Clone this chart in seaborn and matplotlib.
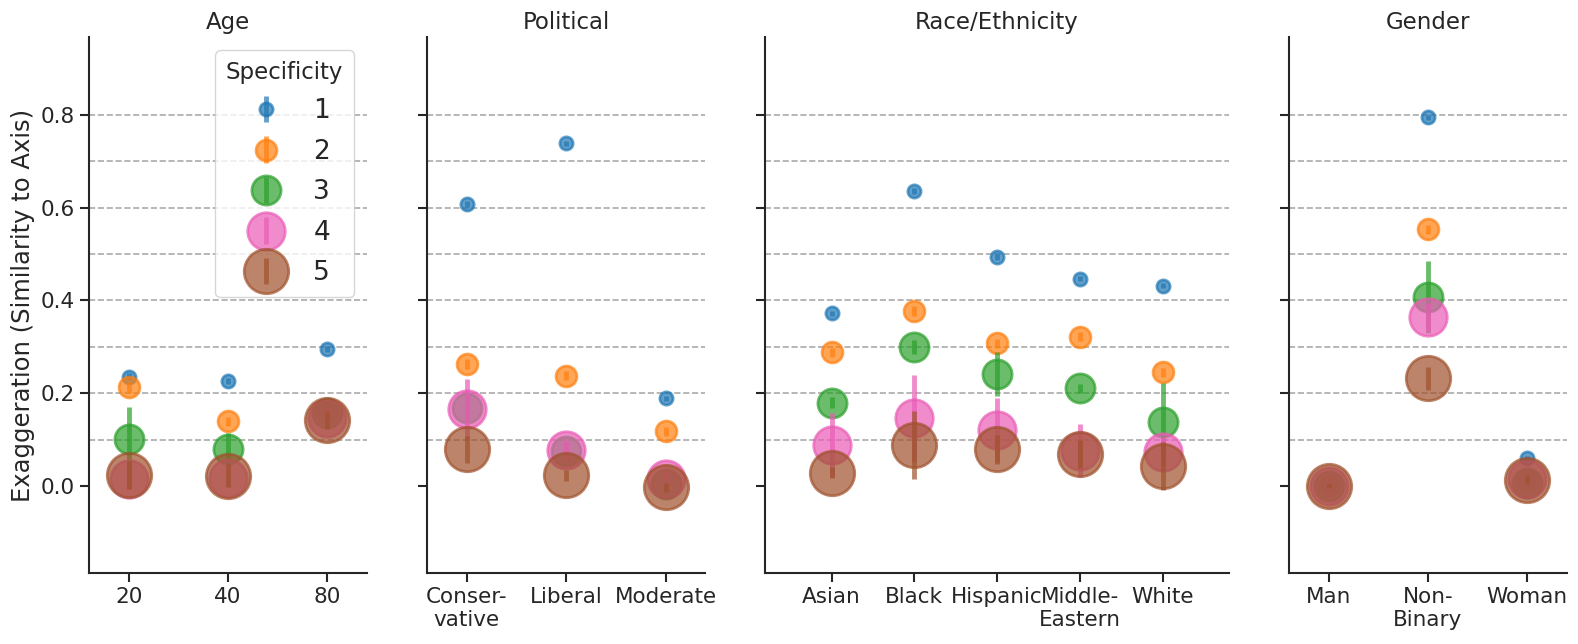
import numpy as np
import matplotlib
matplotlib.use("Agg")
import matplotlib.pyplot as plt
import seaborn as sns

# specificity levels (hue + size)
specificity = [1, 2, 3, 4, 5]

# Age
age_cats = ["20", "40", "80"]
age_vals = [
    [0.236, 0.226, 0.295],
    [0.213, 0.140, 0.160],
    [0.102, 0.080, 0.158],
    [0.015, 0.018, 0.148],
    [0.024, 0.023, 0.143],
]
age_err = [
    [0.008, 0.006, 0.006],
    [0.012, 0.010, 0.010],
    [0.068, 0.035, 0.020],
    [0.020, 0.020, 0.020],
    [0.030, 0.025, 0.020],
]

# Political
pol_cats = ["Conser-\nvative", "Liberal", "Moderate"]
pol_vals = [
    [0.607, 0.738, 0.189],
    [0.263, 0.238, 0.118],
    [0.168, 0.076, 0.004],
    [0.166, 0.078, 0.015],
    [0.080, 0.024, -0.002],
]
pol_err = [
    [0.006, 0.006, 0.006],
    [0.010, 0.010, 0.010],
    [0.030, 0.020, 0.010],
    [0.065, 0.020, 0.020],
    [0.029, 0.012, 0.010],
]

# Race/Ethnicity
race_cats = ["Asian", "Black", "Hispanic", "Middle-\nEastern", "White"]
race_vals = [
    [0.372, 0.635, 0.494, 0.447, 0.432],
    [0.288, 0.377, 0.308, 0.322, 0.245],
    [0.180, 0.299, 0.242, 0.211, 0.139],
    [0.088, 0.146, 0.121, 0.076, 0.074],
    [0.029, 0.088, 0.080, 0.070, 0.043],
]
race_err = [
    [0.006, 0.006, 0.006, 0.006, 0.006],
    [0.010, 0.010, 0.010, 0.010, 0.010],
    [0.012, 0.015, 0.047, 0.010, 0.083],
    [0.069, 0.094, 0.068, 0.057, 0.030],
    [0.012, 0.073, 0.031, 0.030, 0.052],
]

# Gender
gen_cats = ["Man", "Non-\nBinary", "Woman"]
gen_vals = [
    [0.000, 0.794, 0.060],
    [0.000, 0.553, 0.012],
    [0.000, 0.407, 0.006],
    [0.000, 0.365, 0.015],
    [0.001, 0.232, 0.014],
]
gen_err = [
    [0.004, 0.006, 0.006],
    [0.004, 0.010, 0.008],
    [0.005, 0.078, 0.010],
    [0.005, 0.030, 0.010],
    [0.005, 0.025, 0.010],
]

panels = [
    ("Age", age_cats, age_vals, age_err),
    ("Political", pol_cats, pol_vals, pol_err),
    ("Race/Ethnicity", race_cats, race_vals, race_err),
    ("Gender", gen_cats, gen_vals, gen_err),
]

sns.set_theme(style="ticks")
plt.rcParams["font.family"] = ["DejaVu Sans"]
plt.rcParams["axes.linewidth"] = 1.5
plt.rcParams["xtick.major.width"] = 1.5
plt.rcParams["ytick.major.width"] = 1.5
plt.rcParams["xtick.major.size"] = 6.5
plt.rcParams["ytick.major.size"] = 6.5
plt.rcParams["xtick.labelsize"] = 15.5
plt.rcParams["ytick.labelsize"] = 15.5

pal = sns.color_palette(["tab:blue", "tab:orange", "tab:green", "#ea5cb6", "sienna"])
msizes = [9.5, 15, 21, 27, 32]

fig, axes = plt.subplots(1, 4, figsize=(15.78, 6.44), dpi=100, sharey=True,
                         gridspec_kw={"width_ratios": [3, 3, 5, 3]})
fig.subplots_adjust(left=0.0564, right=0.993, bottom=0.110, top=0.9425, wspace=0.185)

for ax, (title, cats, vals, errs) in zip(axes, panels):
    xs = np.arange(len(cats))
    for y in np.arange(0.1, 0.85, 0.1):
        ax.axhline(y, color="#aaaaaa", ls="--", lw=1.2, zorder=0)
    for i, s in enumerate(specificity):
        ax.errorbar(xs, vals[i], yerr=errs[i], fmt="o", color=pal[i],
                    ms=msizes[i], mew=2, elinewidth=3.5, alpha=0.7,
                    label=str(s), zorder=2 + i)
    ax.set_xticks(xs)
    ax.set_xticklabels(cats)
    ax.tick_params(labelsize=15.5)
    pad = 0.4 if len(cats) == 3 else 0.8
    ax.set_xlim(-pad, len(cats) - 1 + pad)
    ax.set_title(title, fontsize=16.5)
    sns.despine(ax=ax)

axes[0].set_ylim(-0.187, 0.967)
axes[0].set_yticks([0.0, 0.2, 0.4, 0.6, 0.8])
axes[0].set_ylabel("Exaggeration (Similarity to Axis)", fontsize=17.5)
axes[0].legend(title="Specificity", loc="upper right", fontsize=19,
               title_fontsize=16.5, labelspacing=0.55)

fig.savefig("out.png", dpi=100)
